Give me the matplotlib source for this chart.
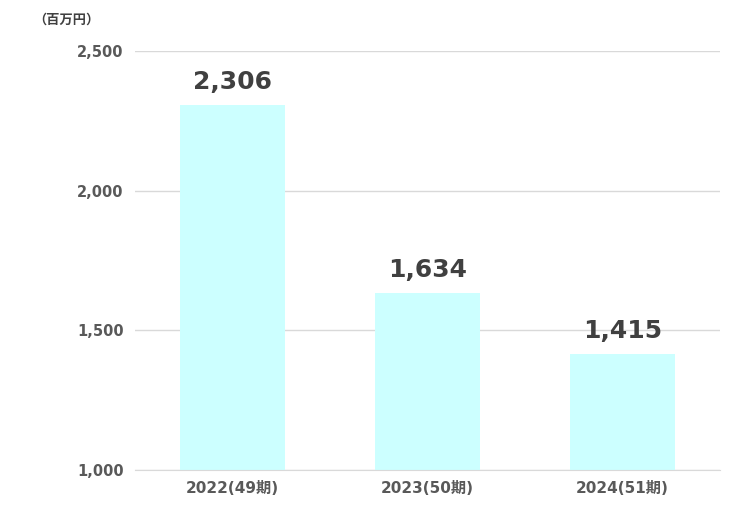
import matplotlib
matplotlib.use("Agg")
import matplotlib.pyplot as plt

plt.rcParams['font.family'] = ['DejaVu Sans', 'Noto Sans CJK JP']

categories = ["2022(49期)", "2023(50期)", "2024(51期)"]
values = [2306, 1634, 1415]
yticks = [1000, 1500, 2000, 2500]

fig = plt.figure(figsize=(7.45, 5.25), dpi=100)
ax = fig.add_axes([0.181, 0.105, 0.785, 0.798])
x = range(len(categories))
ax.bar(x, values, width=0.54, color="#CCFFFF", zorder=2)
for xi, v in zip(x, values):
    ax.text(xi, v + 40, f"{v:,}", ha="center", va="bottom", fontsize=18,
            fontweight="bold", color="#404040")
ax.set_xlim(-0.5, 2.5)
ax.set_ylim(1000, 2500)
ax.set_yticks(yticks)
ax.set_yticklabels([f"{t:,}" for t in yticks], fontsize=10.5, fontweight="bold", color="#595959")
ax.set_xticks(list(x))
ax.set_xticklabels(categories, fontsize=11, fontweight="bold", color="#595959")
ax.yaxis.grid(True, color="#D9D9D9", linewidth=1, zorder=0)
for s in ["top", "right", "left"]:
    ax.spines[s].set_visible(False)
ax.spines["bottom"].set_color("#D9D9D9")
ax.tick_params(length=0, pad=8)
fig.text(0.045, 0.962, "（百万円）", fontsize=9.5, fontweight="bold", color="#404040", va="center")
fig.savefig("out.png", dpi=100)
